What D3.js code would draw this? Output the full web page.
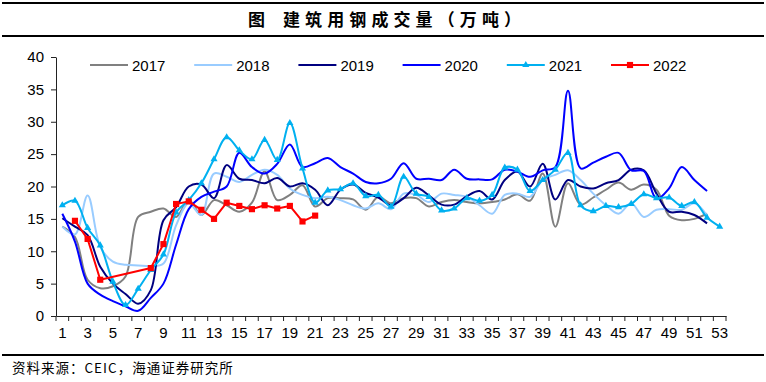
<!DOCTYPE html>
<html><head><meta charset="utf-8">
<script src="https://cdn.jsdelivr.net/npm/d3@7"></script>
<style>
body{margin:0;background:#fff;}
svg{display:block;}
</style>
</head><body>
<svg id="chart" width="766" height="382"></svg>
<script>
const weeks = d3.range(1, 54);
const yTicks = [0, 5, 10, 15, 20, 25, 30, 35, 40];
const seriesNames = ["2017", "2018", "2019", "2020", "2021", "2022"];
const v2017 = [13.8,12.2,5.6,4.3,4.6,6.1,15.3,16.1,16.6,15.3,17.9,15.6,17.9,17.1,16.1,17.5,22.3,17.9,18.7,20.2,16.9,18.2,18.2,18.0,16.4,18.4,17.4,18.2,18.2,16.9,17.6,17.9,17.6,17.4,17.6,18.0,18.8,17.8,22.0,13.8,20.5,17.2,18.3,19.5,20.6,19.5,20.3,19.5,15.5,14.8,15.0,15.8];
const v2018 = [13.8,12.6,18.6,10.7,8.4,7.9,7.8,7.7,8.1,14.0,17.4,15.6,22.0,21.5,20.7,21.8,22.6,21.8,19.7,18.7,18.2,18.4,17.9,17.1,16.6,17.4,16.5,18.9,18.7,17.6,18.9,18.7,18.4,17.1,15.8,18.7,18.9,18.4,21.0,21.8,22.5,21.0,18.9,17.1,15.8,17.4,15.3,16.4,16.5,16.4,17.4,15.5];
const v2019 = [15.1,13.8,12.5,7.6,5.0,3.4,1.9,4.0,14.8,16.8,20.0,20.3,18.2,23.3,21.2,21.0,20.5,21.3,20.0,20.5,19.5,17.1,19.5,20.3,19.0,18.3,17.1,18.2,19.8,18.6,17.2,17.2,18.5,19.3,18.0,21.0,22.3,20.0,23.5,18.0,21.0,20.0,19.7,20.5,21.0,22.6,22.5,18.9,16.1,16.1,15.6,14.3];
const v2020 = [15.8,11.5,5.0,3.3,2.3,1.5,0.8,2.8,5.0,11.0,16.5,18.4,19.2,20.0,25.2,23.0,22.0,23.5,26.5,23.0,23.6,24.4,23.0,22.0,20.7,20.5,21.2,23.6,21.2,21.2,21.0,22.6,21.2,21.1,21.1,22.6,22.3,21.5,22.5,23.0,34.8,22.8,23.7,24.6,25.2,22.5,22.4,18.1,19.7,23.0,21.0,19.3];
const v2021 = [17.1,17.8,13.6,10.9,5.3,1.7,4.2,7.1,9.5,16.0,17.9,20.5,24.2,27.6,25.6,24.2,27.2,24.1,29.8,22.8,17.5,19.4,19.6,20.5,18.5,18.7,16.9,21.5,18.9,18.4,16.3,16.6,18.2,17.8,18.7,22.9,22.6,19.3,21.0,22.6,25.2,17.1,16.2,17.0,16.8,17.3,18.8,18.2,18.3,17.0,17.6,15.2,13.8];
const v2022 = [null,14.7,11.9,5.6,null,null,null,7.4,11.1,17.3,17.7,16.4,15.0,17.5,17.0,16.5,17.1,16.6,17.0,14.6,15.5];
const colors = ["#808080", "#99CCFF", "#000080", "#0000FF", "#00B0F0", "#FF0000"];
const markers = [null, null, null, null, "triangle", "square"];
const smooth = [true, true, true, true, true, false];
const values = [v2017, v2018, v2019, v2020, v2021, v2022];

const svg = d3.select("#chart");
const plotL = 56, plotR = 726, plotT = 57, plotB = 316;

// Frame lines and title
svg.append("line").attr("x1", 2).attr("x2", 764).attr("y1", 3).attr("y2", 3).attr("stroke", "#000").attr("stroke-width", 2);
svg.append("line").attr("x1", 2).attr("x2", 764).attr("y1", 36).attr("y2", 36).attr("stroke", "#000").attr("stroke-width", 2);
svg.append("line").attr("x1", 2).attr("x2", 764).attr("y1", 355).attr("y2", 355).attr("stroke", "#000").attr("stroke-width", 2);
svg.append("text").attr("x", 248).attr("y", 26).attr("font-family", "Noto Sans CJK SC").attr("font-weight", "bold").attr("font-size", 17).text("图");
svg.append("text").attr("x", 283).attr("y", 26).attr("font-family", "Noto Sans CJK SC").attr("font-weight", "bold").attr("font-size", 17)
  .attr("textLength", 238).attr("lengthAdjust", "spacing").text("建筑用钢成交量（万吨）");
svg.append("text").attr("x", 12).attr("y", 373).attr("font-family", "Noto Sans CJK SC").attr("font-size", 13.5)
  .attr("letter-spacing", 1).text("资料来源：CEIC，海通证券研究所");

const x = d3.scaleBand().domain(weeks).range([plotL, plotR]).padding(0);
const y = d3.scaleLinear().domain([0, 40]).range([plotB, plotT]);
const cx = w => x(w) + x.bandwidth() / 2;

// Y axis
const yAxis = svg.append("g").attr("transform", `translate(${plotL},0)`)
  .call(d3.axisLeft(y).tickValues(yTicks).tickSize(5).tickSizeOuter(0).tickPadding(7));
yAxis.selectAll("text").attr("font-family", "Liberation Sans, Arial").attr("font-size", 15).attr("fill", "#000");
yAxis.selectAll("line,path").attr("stroke", "#222");

// X axis
const xAxis = svg.append("g").attr("transform", `translate(0,${plotB})`)
  .call(d3.axisBottom(x).tickSize(0).tickPadding(11).tickFormat(w => (w % 2 === 1 ? String(w) : "")));
xAxis.selectAll("text").attr("font-family", "Liberation Sans, Arial").attr("font-size", 15).attr("fill", "#000");
xAxis.select("path").attr("stroke", "#222");
xAxis.selectAll(".bnd").data(d3.range(0, weeks.length + 1)).enter().append("line")
  .attr("x1", i => plotL + i * x.step()).attr("x2", i => plotL + i * x.step())
  .attr("y1", 0).attr("y2", 5).attr("stroke", "#222");

// Lines
const tri = d3.symbol().type(d3.symbolTriangle).size(22);
const sq = d3.symbol().type(d3.symbolSquare).size(38);
values.forEach((vals, k) => {
  const pts = vals.map((v, i) => ({w: weeks[i], v})).filter(d => d.v !== null);
  const line = d3.line().x(d => cx(d.w)).y(d => y(d.v))
    .curve(smooth[k] ? d3.curveCatmullRom.alpha(0.5) : d3.curveLinear);
  svg.append("path").datum(pts).attr("d", line).attr("fill", "none")
    .attr("stroke", colors[k]).attr("stroke-width", 2).attr("stroke-linejoin", "round");
  if (markers[k]) {
    svg.selectAll(".m" + k).data(pts).enter().append("path")
      .attr("transform", d => `translate(${cx(d.w)},${y(d.v)})`)
      .attr("d", markers[k] === "triangle" ? tri : sq).attr("fill", colors[k]);
  }
});

// Legend
const legend = svg.append("g");
seriesNames.forEach((name, k) => {
  const lx = 90 + k * 104.2, ly = 65;
  legend.append("line").attr("x1", lx).attr("x2", lx + 38).attr("y1", ly).attr("y2", ly)
    .attr("stroke", colors[k]).attr("stroke-width", 2);
  if (markers[k]) {
    legend.append("path").attr("transform", `translate(${lx + 19},${ly})`)
      .attr("d", markers[k] === "triangle" ? tri : sq).attr("fill", colors[k]);
  }
  legend.append("text").attr("x", lx + 42).attr("y", ly + 5.5)
    .attr("font-family", "Liberation Sans, Arial").attr("font-size", 15).attr("fill", "#000").text(name);
});
</script>
</body></html>
